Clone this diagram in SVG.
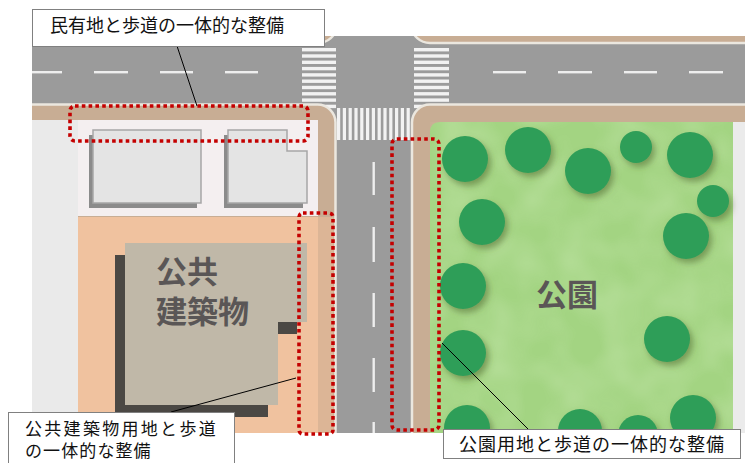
<svg xmlns="http://www.w3.org/2000/svg" width="745" height="463" viewBox="0 0 745 463">
  <style>
    .road { fill: #9b9b9b; }
    .walk { fill: #c8ad94; stroke: #ebe7df; stroke-width: 2.5; }
    .stripe { fill: #f2f2f2; }
    .lane { fill: #eeeeee; }
    .tree { fill: #2f9e58; filter: url(#treeShadow); }
    .zone { fill: none; stroke: #c40000; stroke-width: 3.6; stroke-dasharray: 3.6 3.2; }
    .lbl-box { fill: #ffffff; stroke: #808080; stroke-width: 1; }
    .lbl { font-family: "Noto Sans CJK JP", "Noto Sans CJK SC", sans-serif; font-size: 18px; fill: #111111; }
    .big { font-family: "Noto Sans CJK JP", "Noto Sans CJK SC", sans-serif; font-weight: 700; font-size: 31px; fill: #5a5656; }
    .leader { stroke: #000000; stroke-width: 1; fill: none; }
  </style>
  <defs>
    <clipPath id="mapClip"><rect x="32" y="36" width="713" height="397"/></clipPath>
    <filter id="treeShadow" x="-30%" y="-30%" width="170%" height="170%">
      <feDropShadow dx="3" dy="4" stdDeviation="3" flood-color="#4f6a30" flood-opacity="0.55"/>
    </filter>
    <filter id="mottle" x="0" y="0" width="100%" height="100%">
      <feTurbulence type="fractalNoise" baseFrequency="0.025" numOctaves="2" seed="4"/>
      <feColorMatrix type="matrix" values="0 0 0 0 0.75  0 0 0 0 0.92  0 0 0 0 0.62  0 0 0 0.9 -0.3"/>
    </filter>
  </defs>

  <!-- street plan -->
  <g clip-path="url(#mapClip)">
    <g id="road">
      <rect class="road" x="32" y="36" width="713" height="397"/>
      <!-- centre lines -->
      <rect class="lane" x="28" y="71" width="34" height="2.4"/>
      <rect class="lane" x="94" y="71" width="34" height="2.4"/>
      <rect class="lane" x="160" y="71" width="33" height="2.4"/>
      <rect class="lane" x="225" y="71" width="33" height="2.4"/>
      <rect class="lane" x="493" y="71" width="33" height="2.4"/>
      <rect class="lane" x="558" y="71" width="34" height="2.4"/>
      <rect class="lane" x="624" y="71" width="33" height="2.4"/>
      <rect class="lane" x="689" y="71" width="34" height="2.4"/>
      <rect class="lane" x="372.5" y="162" width="2.4" height="33"/>
      <rect class="lane" x="372.5" y="227" width="2.4" height="35"/>
      <rect class="lane" x="372.5" y="293" width="2.4" height="34"/>
      <rect class="lane" x="372.5" y="358" width="2.4" height="34"/>
      <rect class="lane" x="372.5" y="422" width="2.4" height="20"/>
      <!-- crosswalks -->
      <g id="crosswalk-west">
        <rect class="stripe" x="302" y="48" width="34" height="3.4"/>
        <rect class="stripe" x="302" y="54.3" width="34" height="3.4"/>
        <rect class="stripe" x="302" y="60.6" width="34" height="3.4"/>
        <rect class="stripe" x="302" y="66.9" width="34" height="3.4"/>
        <rect class="stripe" x="302" y="73.2" width="34" height="3.4"/>
        <rect class="stripe" x="302" y="79.5" width="34" height="3.4"/>
        <rect class="stripe" x="302" y="85.8" width="34" height="3.4"/>
        <rect class="stripe" x="302" y="92.1" width="34" height="3.4"/>
        <rect class="stripe" x="302" y="98.4" width="34" height="3.4"/>
        <rect class="stripe" x="302" y="104.7" width="34" height="3.4"/>
      </g>
      <g id="crosswalk-east">
        <rect class="stripe" x="414" y="48" width="35" height="3.4"/>
        <rect class="stripe" x="414" y="54.3" width="35" height="3.4"/>
        <rect class="stripe" x="414" y="60.6" width="35" height="3.4"/>
        <rect class="stripe" x="414" y="66.9" width="35" height="3.4"/>
        <rect class="stripe" x="414" y="73.2" width="35" height="3.4"/>
        <rect class="stripe" x="414" y="79.5" width="35" height="3.4"/>
        <rect class="stripe" x="414" y="85.8" width="35" height="3.4"/>
        <rect class="stripe" x="414" y="92.1" width="35" height="3.4"/>
        <rect class="stripe" x="414" y="98.4" width="35" height="3.4"/>
        <rect class="stripe" x="414" y="104.7" width="35" height="3.4"/>
      </g>
      <g id="crosswalk-south">
        <rect class="stripe" x="337" y="108" width="3.2" height="32"/>
        <rect class="stripe" x="342.8" y="108" width="3.2" height="32"/>
        <rect class="stripe" x="348.6" y="108" width="3.2" height="32"/>
        <rect class="stripe" x="354.4" y="108" width="3.2" height="32"/>
        <rect class="stripe" x="360.2" y="108" width="3.2" height="32"/>
        <rect class="stripe" x="366" y="108" width="3.2" height="32"/>
        <rect class="stripe" x="371.8" y="108" width="3.2" height="32"/>
        <rect class="stripe" x="377.6" y="108" width="3.2" height="32"/>
        <rect class="stripe" x="383.4" y="108" width="3.2" height="32"/>
        <rect class="stripe" x="389.2" y="108" width="3.2" height="32"/>
        <rect class="stripe" x="395" y="108" width="3.2" height="32"/>
        <rect class="stripe" x="400.8" y="108" width="3.2" height="32"/>
        <rect class="stripe" x="406.6" y="108" width="3.2" height="32"/>
      </g>
    </g>

    <!-- blocks with their sidewalks -->
    <rect class="walk" x="0" y="10" width="336" height="33" rx="18"/>
    <rect class="walk" x="412" y="10" width="360" height="33" rx="18"/>

    <g id="block-west">
      <rect class="walk" x="0" y="104.5" width="335.5" height="360" rx="18"/>
      <rect x="32" y="120" width="46" height="320" fill="#eaeaea"/>
      <rect x="78" y="120" width="240" height="96" fill="#f4eff0"/>
      <rect x="78" y="217" width="240" height="220" fill="#f0c29f"/>
      <rect x="318" y="217" width="15.5" height="220" fill="#dcb596"/>
    </g>

    <g id="private-buildings">
      <rect x="89" y="135" width="108" height="73" fill="#8b8b8b"/>
      <rect x="93" y="130" width="108" height="73" fill="#e4e4e4" stroke="#a6a6a6" stroke-width="1.5"/>
      <polygon points="224,135 283,135 283,156 303,156 303,208 224,208" fill="#8b8b8b"/>
      <polygon points="228,130 287,130 287,151 307,151 307,203 228,203" fill="#e4e4e4" stroke="#a6a6a6" stroke-width="1.5"/>
    </g>

    <g id="public-building">
      <polygon points="115,255 297,255 297,334 268,334 268,417 115,417" fill="#4b4844"/>
      <polygon points="125,243 307,243 307,322 278,322 278,405 125,405" fill="#c0b8a8"/>
      <text class="big"><tspan x="156" y="283">公共</tspan><tspan x="156" y="323">建築物</tspan></text>
    </g>

    <g id="park">
      <rect class="walk" x="412" y="104.5" width="360" height="360" rx="18"/>
      <path d="M430,132 Q430,122 440,122 L733,122 L733,440 L430,440 Z" fill="#a3d482"/>
      <path d="M430,132 Q430,122 440,122 L733,122 L733,440 L430,440 Z" fill="#ffffff" filter="url(#mottle)" opacity="0.55"/>
      <rect x="733" y="122" width="14" height="320" fill="#ebebeb"/>
      <circle class="tree" cx="465" cy="159" r="23"/>
      <circle class="tree" cx="528" cy="150" r="23"/>
      <circle class="tree" cx="588" cy="171" r="23"/>
      <circle class="tree" cx="636" cy="147" r="16"/>
      <circle class="tree" cx="690" cy="155" r="23"/>
      <circle class="tree" cx="713" cy="201" r="16"/>
      <circle class="tree" cx="686" cy="236" r="23"/>
      <circle class="tree" cx="482" cy="222" r="23"/>
      <circle class="tree" cx="463" cy="286" r="23"/>
      <circle class="tree" cx="667" cy="339" r="23"/>
      <circle class="tree" cx="463" cy="353" r="23"/>
      <circle class="tree" cx="693" cy="418" r="23"/>
      <circle class="tree" cx="467" cy="428" r="23"/>
      <circle class="tree" cx="580" cy="431" r="22"/>
      <circle class="tree" cx="638" cy="435" r="20"/>
      <text class="big" x="536" y="306">公園</text>
    </g>
  </g>

  <!-- dotted outlines of the combined sidewalk zones -->
  <g id="zones">
    <rect class="zone" x="70" y="106" width="238" height="35" rx="5"/>
    <rect class="zone" x="299" y="213" width="34" height="221" rx="4"/>
    <rect class="zone" x="392" y="139" width="47" height="291" rx="5"/>
  </g>

  <g id="connectors">
    <line class="leader" x1="177" y1="46" x2="197" y2="106"/>
    <line class="leader" x1="171" y1="412" x2="296" y2="378"/>
    <line class="leader" x1="442" y1="343" x2="528" y2="429"/>
  </g>

  <g id="label-private">
    <rect class="lbl-box" x="32.5" y="9.5" width="292" height="37"/>
    <text class="lbl" x="50" y="32">民有地と歩道の一体的な整備</text>
  </g>

  <g id="label-public">
    <rect class="lbl-box" x="8.5" y="412.5" width="226" height="60"/>
    <text class="lbl" style="font-size:17px"><tspan x="25" y="435" style="letter-spacing:2.3px">公共建築物用地と歩道</tspan><tspan x="25" y="457" style="letter-spacing:1.1px">の一体的な整備</tspan></text>
  </g>

  <g id="label-park">
    <rect class="lbl-box" x="443.5" y="429.5" width="297" height="29"/>
    <text class="lbl" x="459" y="451" style="letter-spacing:1px">公園用地と歩道の一体的な整備</text>
  </g>
</svg>
